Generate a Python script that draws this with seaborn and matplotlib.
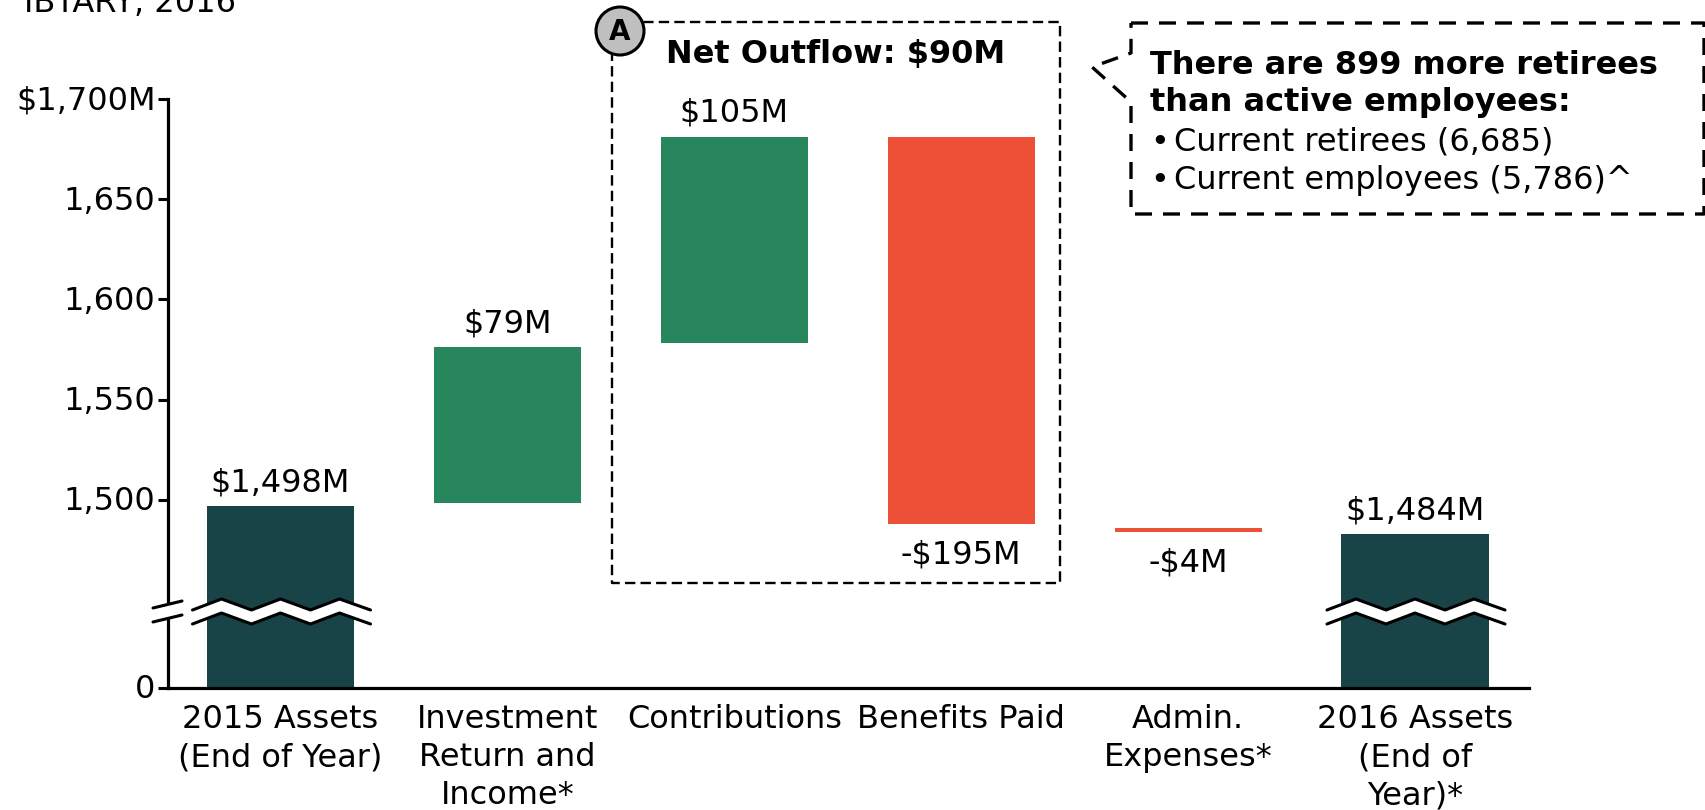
import numpy as np
import pandas as pd
import seaborn as sns
import matplotlib.pyplot as plt
from matplotlib.lines import Line2D
from matplotlib.patches import Circle, Polygon
from matplotlib.transforms import Affine2D

categorias = ['2015 Assets\n(End of Year)', 'Investment\nReturn and\nIncome*', 'Contributions',
              'Benefits Paid', 'Admin.\nExpenses*', '2016 Assets\n(End of\nYear)*']
base = [0, 1498.5, 1578, 1488, 1483.7, 0]
tope = [1497, 1576, 1681.2, 1681.2, 1486, 1483]
colores = ['#184347', '#27865b', '#27865b', '#ed5036', '#ed5036', '#184347']
etiquetas = ['$1,498M', '$79M', '$105M', '-$195M', '-$4M', '$1,484M']
etiqueta_abajo = [False, False, False, True, True, False]
yticks = [0, 1500, 1550, 1600, 1650, 1700]
yticklabels = ['0', '1,500', '1,550', '1,600', '1,650', '$1,700M']

# escala con el corte del eje: de 0 a 1445 casi no ocupa lugar
knots_val = [0, 1445, 1700]
knots_pos = [0, 78, 589]

W, H = 1705, 810
FS = 23
NEGRO = '#000000'

sns.set_style('white')
plt.rcParams['font.family'] = ['DejaVu Sans']

fig = plt.figure(figsize=(W / 100, H / 100), dpi=100)
ax = fig.add_axes([168 / W, (H - 688) / H, (1529 - 168) / W, 589 / H])
ax.set_yscale('function', functions=(lambda v: np.interp(v, knots_val, knots_pos),
                                     lambda p: np.interp(p, knots_pos, knots_val)))

df = pd.DataFrame({'categoria': categorias, 'base': base, 'tope': tope, 'color': colores})
df['alto'] = df['tope'] - df['base']
for _, fila in df.iterrows():
    sns.barplot(data=df[df['categoria'] == fila['categoria']], x='categoria', y='alto', order=categorias,
                color=fila['color'], saturation=1, width=0.648, linewidth=0, bottom=fila['base'],
                errorbar=None, ax=ax)

ax.set_xlim((168 - 280.5) / 226.9, (1529 - 280.5) / 226.9)
ax.set_ylim(0, 1700)
ax.set_xlabel('')
ax.set_ylabel('')
ax.set_yticks(yticks, yticklabels, fontsize=FS, color=NEGRO)
ax.minorticks_off()
ax.set_xticks(range(len(categorias)), categorias, fontsize=FS, color=NEGRO, linespacing=1.3)
ax.tick_params(axis='x', length=0, pad=11.5)
ax.tick_params(axis='y', length=7, width=2.2, color=NEGRO, left=True, pad=2)
for lab in ax.get_yticklabels():
    lab.set_transform(lab.get_transform() + Affine2D().translate(0, 1.5))
sns.despine(ax=ax)
ax.spines['left'].set_linewidth(2.3)
ax.spines['bottom'].set_linewidth(2.3)
ax.spines['left'].set_color(NEGRO)
ax.spines['bottom'].set_color(NEGRO)

for i, txt in enumerate(etiquetas):
    if etiqueta_abajo[i]:
        ax.annotate(txt, (i, base[i]), xytext=(0, -11), textcoords='offset points',
                    ha='center', va='top', fontsize=FS, color=NEGRO)
    else:
        ax.annotate(txt, (i, tope[i]), xytext=(0, 5.6), textcoords='offset points',
                    ha='center', va='bottom', fontsize=FS, color=NEGRO)

# lo demas va en pixeles de la imagen (y para abajo)
px = Affine2D().scale(1, -1).translate(0, H)

def linea(xs, ys, lw=2.2, **kw):
    fig.add_artist(Line2D(xs, ys, transform=px, color=NEGRO, lw=lw, zorder=6, **kw))

# corte de las barras y del eje
onda_dx = np.array([-88, -59, -29, 0, 30, 59, 90])
onda_dy = np.array([50, 39, 50, 39, 50, 39, 50]) + 560
for cx in [280.5, 1415]:
    xs = cx + onda_dx
    fig.add_artist(Polygon(np.column_stack([np.r_[xs, xs[::-1]], np.r_[onda_dy, onda_dy[::-1] + 14]]),
                           transform=px, fc='white', ec='none', zorder=5))
    linea(xs, onda_dy)
    linea(xs, onda_dy + 14)
fig.add_artist(Polygon([(153, 608), (182, 601), (182, 615), (153, 622)], transform=px, fc='white', ec='none', zorder=5))
linea([153, 182], [608, 601])
linea([153, 182], [622, 615])

# recuadro A
fig.add_artist(Line2D([612, 1060, 1060, 612, 612], [22, 22, 583, 583, 22], transform=px, color=NEGRO,
                      lw=1.7, dashes=(4.4, 2.2), zorder=3))
fig.add_artist(Circle((620, 31), 24, transform=px, fc='#bfbfbf', ec=NEGRO, lw=2.2, zorder=6))
fig.text(620, 32, 'A', transform=px, ha='center', va='center', fontsize=20, fontweight='bold', color=NEGRO, zorder=7)
fig.text(666, 55, 'Net Outflow: $90M', transform=px, ha='left', va='center', fontsize=FS, fontweight='bold', color=NEGRO)

# nota de retirados
linea([1131, 1704, 1704, 1131, 1131, 1092, 1131, 1131], [23, 23, 214, 214, 102, 67, 53, 23],
      lw=2.4, dashes=(5.1, 3.3))
fig.text(1150, 65, 'There are 899 more retirees', transform=px, va='center', fontsize=FS, fontweight='bold', color=NEGRO)
fig.text(1150, 103, 'than active employees:', transform=px, va='center', fontsize=FS, fontweight='bold', color=NEGRO)
fig.text(1150, 142, '•', transform=px, va='center', fontsize=FS, color=NEGRO)
fig.text(1174, 142, 'Current retirees (6,685)', transform=px, va='center', fontsize=FS, color=NEGRO)
fig.text(1150, 181, '•', transform=px, va='center', fontsize=FS, color=NEGRO)
fig.text(1174, 181, 'Current employees (5,786)^', transform=px, va='center', fontsize=FS, color=NEGRO)

# titulo cortado por el borde de la imagen
fig.text(236, 12, 'IBTARY, 2016', transform=px, ha='right', va='baseline', fontsize=FS, color=NEGRO)

fig.savefig('out.png', dpi=100)
